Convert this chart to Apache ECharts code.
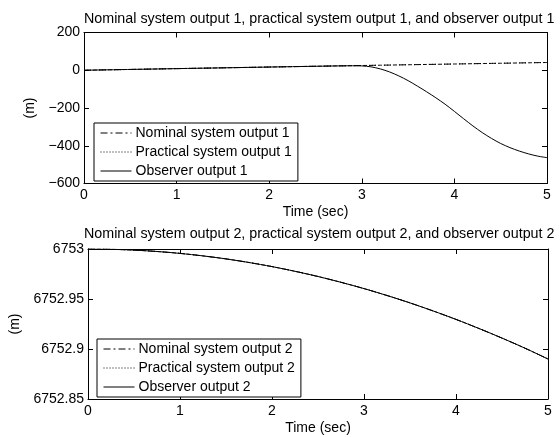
<!DOCTYPE html>
<html>
<head>
<meta charset="utf-8">
<script src="https://cdn.jsdelivr.net/npm/echarts@6/dist/echarts.min.js"></script>
<style>
  html, body { margin: 0; padding: 0; background: #fff; }
  #main { width: 560px; height: 437px; }
</style>
</head>
<body>
<div id="main"></div>
<script>
// top plot: output 1
var time1 = [0, 0.5, 1, 1.5, 2, 2.5, 2.8, 2.9, 3.0, 3.1, 3.2, 3.3, 3.4, 3.5, 3.6, 3.7, 3.8, 3.9,
    4.0, 4.1, 4.2, 4.3, 4.4, 4.5, 4.6, 4.7, 4.8, 4.9, 5.0];
var nominal1 = [0, 4.3, 8.6, 12.8, 17.0, 21.1, 23.5, 24.3, 25.1, 25.9, 26.7, 27.5, 28.3, 29.1, 29.9,
    30.7, 31.5, 32.3, 33.1, 33.9, 34.7, 35.5, 36.3, 37.1, 37.9, 38.7, 39.5, 40.3, 41.0];
var practical1 = [0, 4.3, 8.6, 12.8, 17.0, 21.1, 23.5, 24.3, 25.1, 25.9, 26.7, 27.5, 28.3, 29.1, 29.9,
    30.7, 31.5, 32.3, 33.1, 33.9, 34.7, 35.5, 36.3, 37.1, 37.9, 38.7, 39.5, 40.3, 41.0];
var observer1 = [0, 4.3, 8.6, 12.8, 17.0, 21.1, 23.4, 23.8, 23.0, 18, 7, -9, -30, -55, -84, -114,
    -146, -180, -218, -257, -295, -330, -361, -388, -410, -428, -443, -455, -463];

// bottom plot: output 2
var time2 = [0, 0.25, 0.5, 0.75, 1, 1.25, 1.5, 1.75, 2, 2.25, 2.5, 2.75, 3, 3.25, 3.5, 3.75, 4,
    4.25, 4.5, 4.75, 5];
var nominal2 = [6753.0000, 6752.9997, 6752.9989, 6752.9975, 6752.9956, 6752.9931, 6752.9901,
    6752.9865, 6752.9824, 6752.9777, 6752.9725, 6752.9667, 6752.9604, 6752.9535, 6752.9461,
    6752.9381, 6752.9296, 6752.9205, 6752.9109, 6752.9008, 6752.8900];
var practical2 = nominal2.slice();
var observer2 = nominal2.slice();

var titles = [
    'Nominal system output 1, practical system output 1, and observer output 1',
    'Nominal system output 2, practical system output 2, and observer output 2'
];
var names1 = ['Nominal system output 1', 'Practical system output 1', 'Observer output 1'];
var names2 = ['Nominal system output 2', 'Practical system output 2', 'Observer output 2'];

var FONT = '"Liberation Sans", Arial, Helvetica, sans-serif';

function pairs(xs, ys) {
    var out = [];
    for (var i = 0; i < xs.length; i++) {
        out.push([xs[i], ys[i]]);
    }
    return out;
}

function xAxisFor(grid, top) {
    return {
        type: 'value',
        gridIndex: grid,
        position: top ? 'top' : 'bottom',
        min: 0,
        max: 5,
        interval: 1,
        name: top ? '' : 'Time (sec)',
        nameLocation: 'middle',
        nameGap: 22,
        nameTextStyle: { color: '#000', fontSize: 14, fontFamily: FONT },
        axisLine: { show: true, onZero: false, lineStyle: { color: '#000', width: 1 } },
        axisTick: { show: true, inside: true, length: 5, lineStyle: { color: '#000' } },
        axisLabel: {
            show: !top,
            color: '#000',
            fontSize: 14,
            fontFamily: FONT,
            margin: 5
        },
        splitLine: { show: false }
    };
}

function yAxisFor(grid, right, min, max, interval, gap, fmt) {
    return {
        type: 'value',
        gridIndex: grid,
        position: right ? 'right' : 'left',
        min: min,
        max: max,
        interval: interval,
        name: right ? '' : '(m)',
        nameLocation: 'middle',
        nameGap: gap,
        nameRotate: 90,
        nameTextStyle: { color: '#000', fontSize: 14, fontFamily: FONT },
        axisLine: { show: true, onZero: false, lineStyle: { color: '#000', width: 1 } },
        axisTick: { show: true, inside: true, length: 5, lineStyle: { color: '#000' } },
        axisLabel: {
            show: !right,
            color: '#000',
            fontSize: 14,
            fontFamily: FONT,
            margin: 4,
            formatter: fmt
        },
        splitLine: { show: false }
    };
}

function fmt1(v) {
    return String(v).replace('-', '\u2212');
}
function fmt2(v) {
    return String(+v.toFixed(2));
}

function lineSeries(name, xi, yi, data, type) {
    return {
        name: name,
        type: 'line',
        xAxisIndex: xi,
        yAxisIndex: yi,
        data: data,
        showSymbol: false,
        symbol: 'none',
        smooth: 0.3,
        animation: false,
        lineStyle: { color: '#000', width: 1, type: type },
        itemStyle: { color: '#000' }
    };
}

var dashDot = [7, 3, 2, 3];
var dotted = [1, 2];

function legendFor(names, left, top) {
    return {
        data: names,
        orient: 'vertical',
        left: left,
        top: top,
        backgroundColor: '#fff',
        borderColor: '#000',
        borderWidth: 1,
        borderRadius: 0,
        padding: [3, 6, 3, 6],
        itemGap: 5,
        itemWidth: 31,
        itemHeight: 14,
        selectedMode: false,
        itemStyle: { opacity: 0, borderWidth: 0 },
        lineStyle: { width: 1 },
        textStyle: { color: '#000', fontSize: 14, fontFamily: FONT, padding: [0, 0, 0, -1] }
    };
}

var chart = echarts.init(document.getElementById('main'), null, { renderer: 'canvas' });
chart.setOption({
    backgroundColor: '#fff',
    animation: false,
    title: [{
        text: titles[0],
        left: 79,
        top: 7,
        textStyle: { color: '#000', fontSize: 14.3, fontWeight: 'normal', fontFamily: FONT }
    }, {
        text: titles[1],
        left: 79,
        top: 222,
        textStyle: { color: '#000', fontSize: 14.3, fontWeight: 'normal', fontFamily: FONT }
    }],
    legend: [legendFor(names1, 94, 123), legendFor(names2, 97, 339)],
    grid: [
        { left: 84, right: 13, top: 32.5, height: 151 },
        { left: 88, right: 12, top: 249, height: 150 }
    ],
    xAxis: [xAxisFor(0, false), xAxisFor(0, true), xAxisFor(1, false), xAxisFor(1, true)],
    yAxis: [
        yAxisFor(0, false, -600, 200, 200, 34, fmt1),
        yAxisFor(0, true, -600, 200, 200, 34, fmt1),
        yAxisFor(1, false, 6752.85, 6753, 0.05, 62, fmt2),
        yAxisFor(1, true, 6752.85, 6753, 0.05, 62, fmt2)
    ],
    series: [
        lineSeries(names1[0], 0, 0, pairs(time1, nominal1), dashDot),
        lineSeries(names1[1], 0, 0, pairs(time1, practical1), dotted),
        lineSeries(names1[2], 0, 0, pairs(time1, observer1), 'solid'),
        lineSeries(names2[0], 2, 2, pairs(time2, nominal2), dashDot),
        lineSeries(names2[1], 2, 2, pairs(time2, practical2), dotted),
        lineSeries(names2[2], 2, 2, pairs(time2, observer2), 'solid')
    ]
});
</script>
</body>
</html>
